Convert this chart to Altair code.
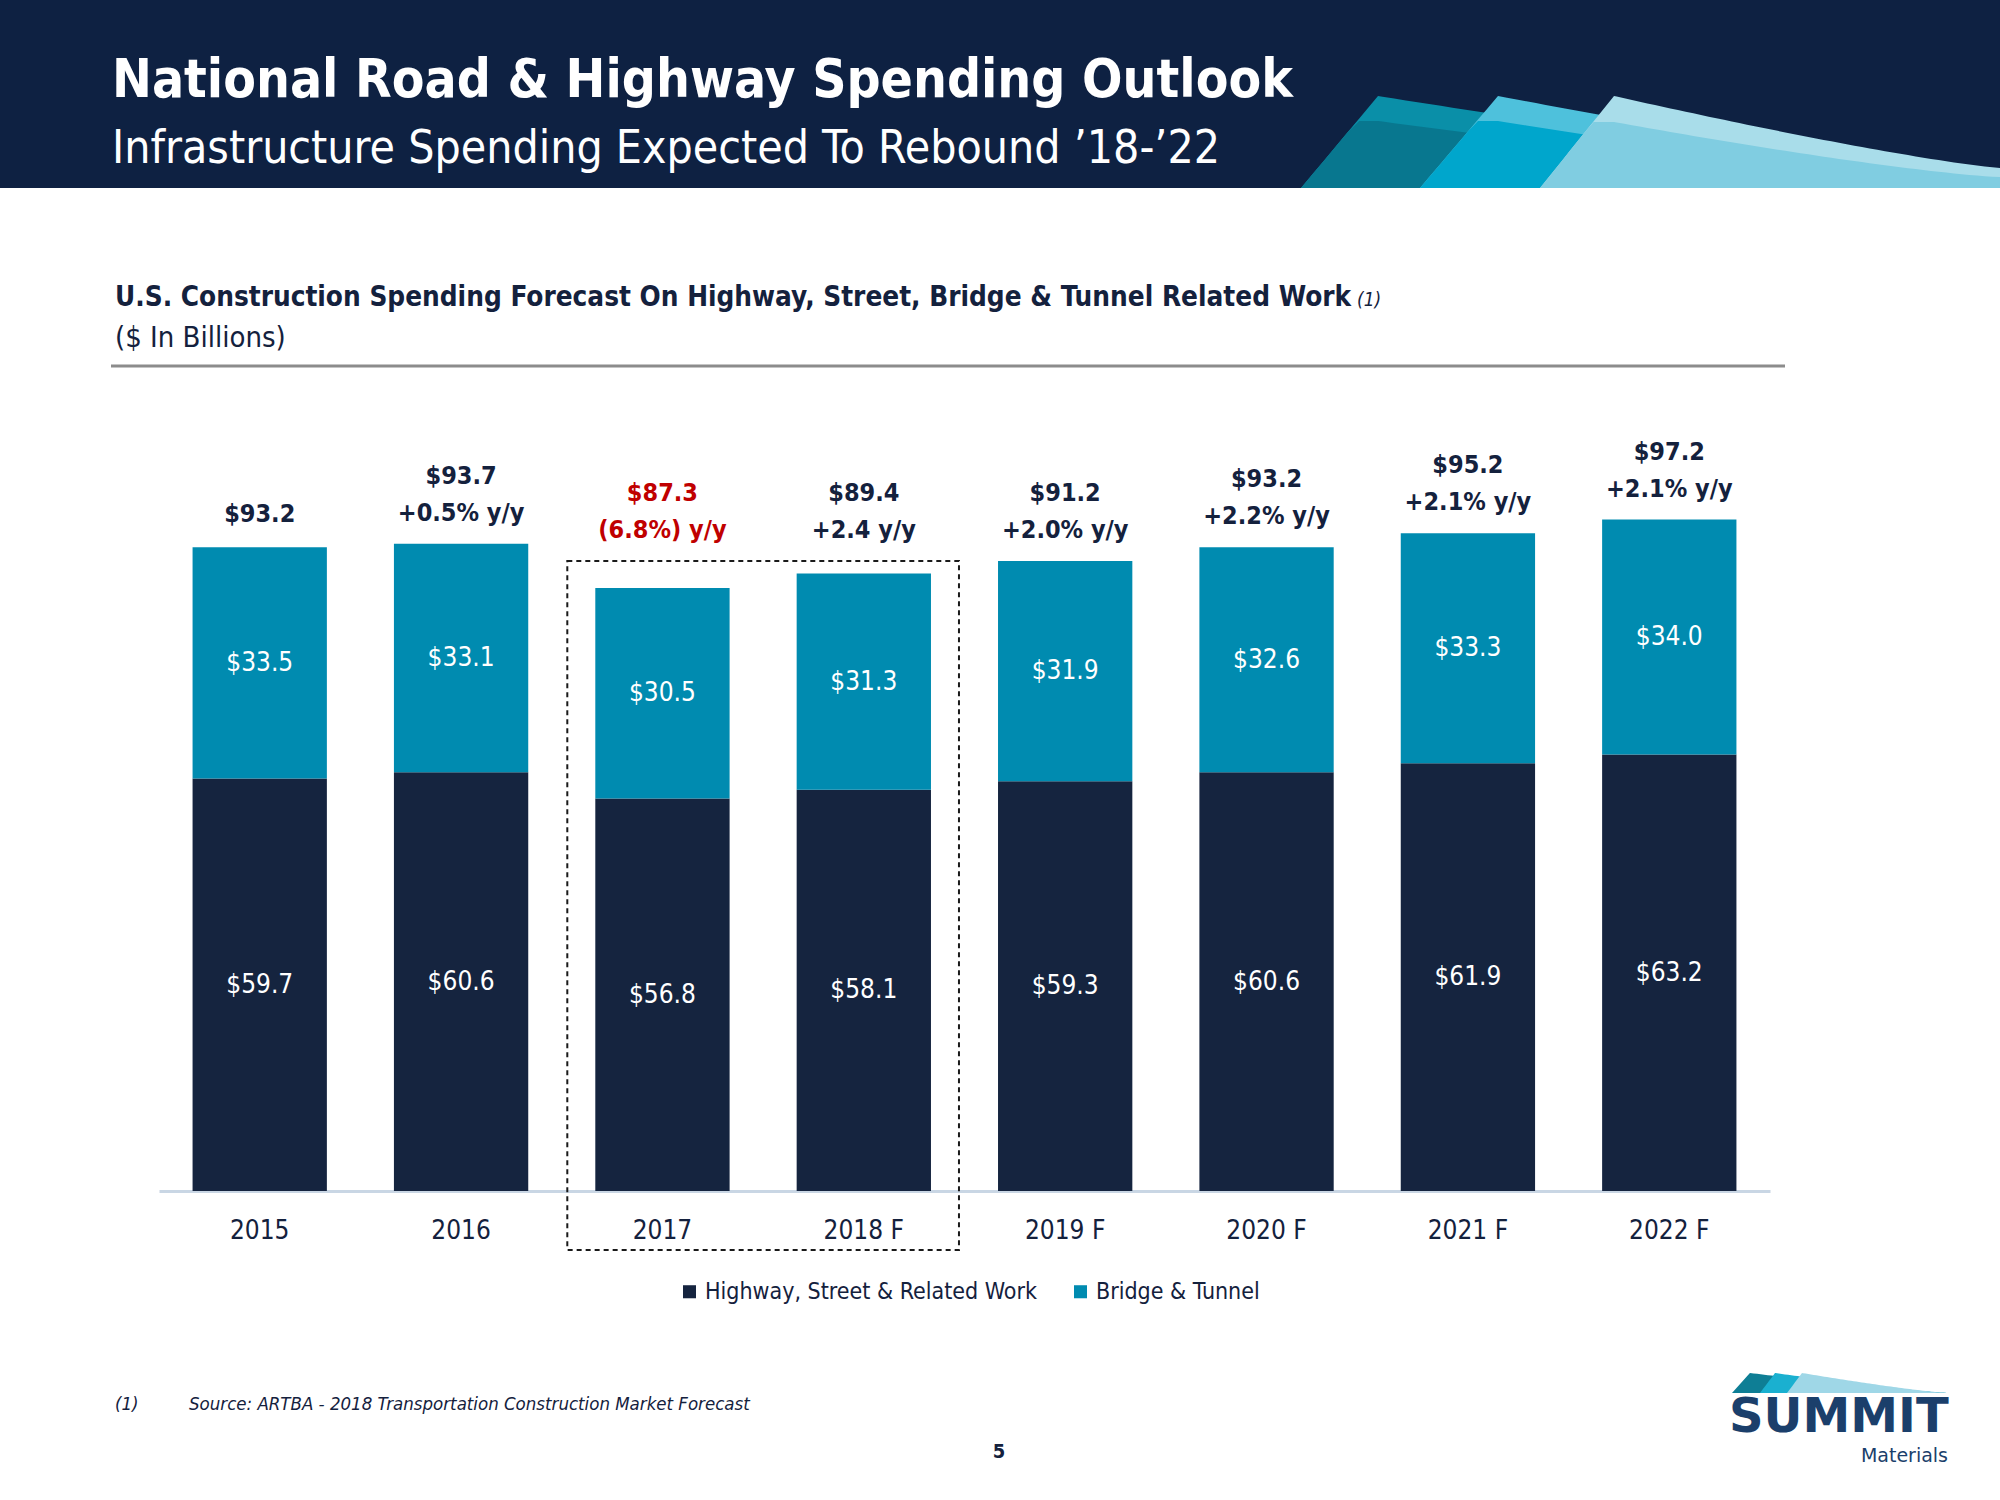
import altair as alt
import pandas as pd

# ---------------- data ----------------
years = ["2015", "2016", "2017", "2018 F", "2019 F", "2020 F", "2021 F", "2022 F"]
highway = [59.7, 60.6, 56.8, 58.1, 59.3, 60.6, 61.9, 63.2]
bridge = [33.5, 33.1, 30.5, 31.3, 31.9, 32.6, 33.3, 34.0]
totals = [93.2, 93.7, 87.3, 89.4, 91.2, 93.2, 95.2, 97.2]
growth = ["", "+0.5% y/y", "(6.8%) y/y", "+2.4 y/y", "+2.0% y/y", "+2.2% y/y", "+2.1% y/y", "+2.1% y/y"]
series = ["Highway, Street & Related Work", "Bridge & Tunnel"]
highlight_year = "2017"
boxed_years = ["2017", "2018 F"]

# ---------------- styles ----------------
W, H = 2000, 1500
OX, OY = 159, 362
PW, PH = 1611, 829
YMAX = 120
P_IN, P_OUT = 0.333, 0.1667
STEP = PW / (len(years) - P_IN + 2 * P_OUT)
BW = STEP * (1 - P_IN)
OFF = STEP * P_OUT
BOX_TOP_PX = 561 - OY          # dashed box top (plot pixels)
BOX_BOTTOM_PX = 1250 - OY      # dashed box bottom (below the axis labels)
BOX_TOP_VAL = (PH - BOX_TOP_PX) / PH * YMAX

NARROW = "'Liberation Sans Narrow', 'Arial Narrow', 'DejaVu Sans Condensed', sans-serif"
WIDE = "'DejaVu Sans', Verdana, sans-serif"
HEADER = "#0E2142"
NAVY = "#15243F"
TEAL = "#008BB0"
TXT = "#14213D"
RED = "#C00000"
LOGO = "#1B3F6B"

# ---------------- tables ----------------
bars_df = pd.DataFrame({
    "year": years * 2,
    "series": [series[0]] * len(years) + [series[1]] * len(years),
    "value": highway + bridge,
    "ord": [0] * len(years) + [1] * len(years),
    "mid": [h / 2 for h in highway] + [h + b / 2 for h, b in zip(highway, bridge)],
})
bars_df["label"] = ["$%.1f" % v for v in bars_df["value"]]

top_df = pd.DataFrame({
    "year": years,
    "total": totals,
    "anchor": [max(t, BOX_TOP_VAL) if y in boxed_years else t for y, t in zip(years, totals)],
    "line1": ["$%.1f" % t for t in totals],
    "line2": growth,
    "two": [g != "" for g in growth],
})

xscale = alt.Scale(domain=years, paddingInner=P_IN, paddingOuter=P_OUT)
yscale = alt.Scale(domain=[0, YMAX], nice=False, zero=True)

X = alt.X("year:N", sort=years, scale=xscale,
          axis=alt.Axis(title=None, labelAngle=0, labelFont=NARROW, labelFontSize=26,
                        labelColor=TXT, labelPadding=39, labelBaseline="middle",
                        ticks=False, tickSize=0, domainColor="#C9D6E4", domainWidth=3,
                        grid=False))

bars = alt.Chart(bars_df).mark_bar().encode(
    x=X,
    y=alt.Y("value:Q", stack="zero", scale=yscale, axis=None),
    color=alt.Color("series:N", scale=alt.Scale(domain=series, range=[NAVY, TEAL]),
                    legend=alt.Legend(orient="none", legendX=519, legendY=918,
                                      direction="horizontal", title=None,
                                      symbolType="square", symbolSize=170,
                                      symbolStrokeWidth=0, labelFont=NARROW,
                                      labelFontSize=23, labelColor=TXT,
                                      columnPadding=32, labelOffset=4, padding=0,
                                      labelLimit=0)),
    order=alt.Order("ord:Q", sort="ascending"),
)

seg_text = alt.Chart(bars_df).mark_text(
    font=NARROW, fontSize=26, color="white", baseline="middle", align="center"
).encode(x=alt.X("year:N", sort=years), y=alt.Y("mid:Q"), text="label:N")


def top_layer(field, cond, dy):
    return alt.Chart(top_df).transform_filter(cond).mark_text(
        font=NARROW, fontSize=25, fontWeight="bold", baseline="middle", align="center",
        dy=dy
    ).encode(
        x=alt.X("year:N", sort=years),
        y=alt.Y("anchor:Q"),
        text=f"{field}:N",
        color=alt.condition(alt.datum.year == highlight_year, alt.value(RED), alt.value(TXT)),
    )


top_single = top_layer("line1", "!datum.two", -33)
top_first = top_layer("line1", "datum.two", -68)
top_second = top_layer("line2", "datum.two", -31)

# dashed annotation box around 2017 and 2018 F
i0 = years.index(boxed_years[0])
i1 = years.index(boxed_years[-1])
box = alt.Chart(pd.DataFrame({"k": [0]})).mark_rect(
    filled=False, stroke="#1A1A1A", strokeWidth=2, strokeDash=[5, 4]
).encode(
    x=alt.value(OFF + i0 * STEP - 28), x2=alt.value(OFF + i1 * STEP + BW + 28),
    y=alt.value(BOX_TOP_PX), y2=alt.value(BOX_BOTTOM_PX),
)


def txt(s, x, y, size, color=TXT, weight="normal", style="normal", align="left",
        font=NARROW, baseline="alphabetic"):
    return alt.Chart(pd.DataFrame({"t": [s]})).mark_text(
        font=font, fontSize=size, fontWeight=weight, fontStyle=style, align=align,
        baseline=baseline, color=color
    ).encode(x=alt.value(x - OX), y=alt.value(y - OY), text="t:N")


texts = [
    txt("National Road & Highway Spending Outlook", 112, 97, 53, color="white", weight="bold"),
    txt("Infrastructure Spending Expected To Rebound \u201918-\u201922", 112, 163, 46, color="white"),
    txt("U.S. Construction Spending Forecast On Highway, Street, Bridge & Tunnel Related Work",
        115, 306, 27.7, weight="bold"),
    txt("(1)", 1357, 306, 19, style="italic"),
    txt("($ In Billions)", 115, 347, 29),
    txt("(1)", 115, 1410, 18.5, style="italic"),
    txt("Source:  ARTBA - 2018 Transportation Construction Market Forecast", 189, 1410, 18.5,
        style="italic"),
    txt("5", 999, 1458, 20, weight="bold", align="center"),
    txt("SUMMIT", 1729, 1432, 48, color=LOGO, weight="bold", font=WIDE),
    txt("Materials", 1948, 1462, 19, color=LOGO, align="right", font=WIDE),
]

rule = alt.Chart(pd.DataFrame({"k": [0]})).mark_rule(color="#8C8C8C", strokeWidth=3).encode(
    x=alt.value(111 - OX), x2=alt.value(1785 - OX), y=alt.value(366 - OY)
)

main = alt.layer(box, bars, seg_text, top_single, top_first, top_second, rule, *texts)

# ---------------- decoration (header band and sails) ----------------
header = alt.Chart(pd.DataFrame({"k": [0]})).mark_rect(color=HEADER).encode(
    x=alt.value(-OX), x2=alt.value(W - OX), y=alt.value(-OY), y2=alt.value(188 - OY)
)


def sail(xb, xp, yp, xr, yr, yb, off0=0.0, off1=0.0, n=60):
    pts = []
    xs = [xb + (xr - xb) * i / n for i in range(n + 1)] + [xp]
    for x in sorted(xs):
        left = yb - (x - xb) * (yb - yp) / (xp - xb)
        if x <= xp:
            t = 0.0
            curve = yp
        else:
            t = (x - xp) / (xr - xp)
            curve = yp + (yr - yp) * (1 - (1 - t) ** 1.2)
        off = off0 * (1 - t) + off1 * t
        top = min(max(left, curve + off), yb)
        pts.append({"x": x - OX, "y": top - OY, "y2": yb - OY})
    return pd.DataFrame(pts)


def area(df, color):
    return alt.Chart(df).mark_area(color=color, opacity=1).encode(
        x=alt.X("x:Q", scale=None, axis=None),
        y=alt.Y("y:Q", scale=None, axis=None),
        y2="y2:Q",
    )


deco_layers = [header]
for xb, xp, yr, ctop, clow, o0, o1 in [
    (1301, 1378, 178, "#0A8FA8", "#08778F", 25, 10),
    (1420, 1498, 175, "#4EC1DC", "#00A6CC", 25, 10),
    (1540, 1614, 168, "#A9DDEA", "#80CDE1", 26, 9),
]:
    deco_layers.append(area(sail(xb, xp, 96, 2000, yr, 188), ctop))
    deco_layers.append(area(sail(xb, xp, 96, 2000, yr, 188, o0, o1), clow))

for xb, xp, c in [(1732, 1750, "#0E7E95"), (1760, 1775, "#1AB0D0"), (1787, 1802, "#9FD7E7")]:
    deco_layers.append(area(sail(xb, xp, 1373, 1947, 1393, 1393), c))

deco = alt.layer(*deco_layers)

chart = alt.layer(deco, main).resolve_scale(
    x="independent", y="independent"
).properties(
    width=PW, height=PH,
    padding={"left": OX, "top": OY, "right": W - OX - PW, "bottom": H - OY - PH},
    autosize=alt.AutoSizeParams(type="none"),
    background="white",
).configure_view(strokeWidth=0)

chart.save("out.html", embed_options={"renderer": "svg", "actions": False})
